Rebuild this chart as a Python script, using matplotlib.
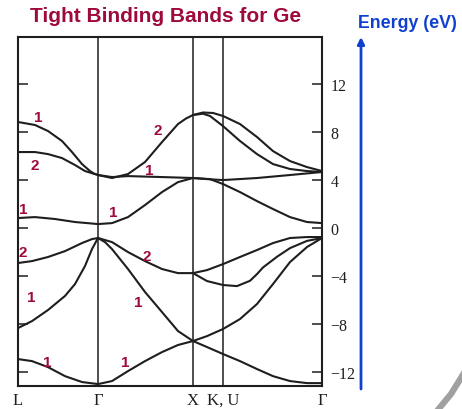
import matplotlib
matplotlib.use("Agg")
import matplotlib.pyplot as plt
from matplotlib.lines import Line2D

# k along the path L - Gamma - X - K,U - Gamma (arbitrary path units)
sym_k = [0.0, 0.80, 1.75, 2.05, 3.04]
sym_labels = ["L", "Γ", "X", "K, U", "Γ"]

# bands, energies in eV
v1_k = [0, 0.14, 0.30, 0.47, 0.64, 0.80, 0.94, 1.10, 1.27, 1.44, 1.60, 1.75,
        1.89, 2.05, 2.22, 2.39, 2.55, 2.72, 2.89, 3.04]
v1_e = [-10.89, -11.06, -11.56, -12.31, -12.80, -12.97, -12.72, -11.89, -11.06,
        -10.31, -9.72, -9.39, -9.89, -10.47, -11.06, -11.72, -12.31, -12.72,
        -12.89, -12.89]

v2_k = [0, 0.14, 0.30, 0.47, 0.57, 0.67, 0.74, 0.80, 0.87, 0.94, 1.10, 1.27,
        1.44, 1.60, 1.75, 1.89, 2.05, 2.22, 2.39, 2.55, 2.72, 2.89, 3.04]
v2_e = [-8.31, -7.73, -6.81, -5.64, -4.65, -3.15, -1.74, -0.82, -1.16, -1.74,
        -3.40, -5.31, -6.98, -8.56, -9.39, -8.98, -8.39, -7.56, -6.31, -4.65,
        -2.82, -1.57, -0.82]

v3_k = [0, 0.14, 0.30, 0.47, 0.64, 0.74, 0.80, 0.94, 1.10, 1.27, 1.44, 1.60,
        1.75, 1.89, 2.05, 2.19, 2.32, 2.39, 2.45, 2.59, 2.72, 2.89, 3.04]
v3_e = [-2.90, -2.74, -2.40, -1.91, -1.24, -0.91, -0.82, -1.16, -1.99, -2.74,
        -3.40, -3.74, -3.74, -4.40, -4.73, -4.82, -4.38, -3.82, -3.27, -2.38,
        -1.66, -1.06, -0.82]

v4_k = [1.75, 1.89, 2.05, 2.22, 2.39, 2.55, 2.72, 2.89, 3.04]
v4_e = [-3.74, -3.49, -2.99, -2.40, -1.82, -1.24, -0.82, -0.74, -0.74]

c1_k = [0, 0.17, 0.37, 0.57, 0.80, 0.94, 1.10, 1.27, 1.44, 1.60, 1.75, 1.92,
        2.05, 2.22, 2.39, 2.55, 2.72, 2.89, 3.04]
c1_e = [0.84, 0.92, 0.76, 0.51, 0.34, 0.42, 0.92, 1.92, 3.00, 3.83, 4.17, 4.08,
        3.67, 3.00, 2.25, 1.59, 0.92, 0.51, 0.42]

c2_k = [0, 0.17, 0.30, 0.44, 0.57, 0.67, 0.80, 0.94, 1.10, 1.44, 1.75, 1.89,
        2.05, 2.39, 2.72, 3.04]
c2_e = [6.33, 6.33, 6.16, 5.83, 5.25, 4.75, 4.42, 4.25, 4.33, 4.25, 4.17, 4.08,
        4.00, 4.17, 4.42, 4.67]

c3_k = [0, 0.17, 0.30, 0.44, 0.54, 0.64, 0.72, 0.76, 0.80, 0.94, 1.10, 1.27,
        1.44, 1.60, 1.68, 1.75, 1.85, 1.92, 2.05, 2.22, 2.39, 2.55, 2.72, 2.89,
        3.04]
c3_e = [8.83, 8.58, 8.08, 7.25, 6.33, 5.33, 4.75, 4.54, 4.42, 4.17, 4.50, 5.50,
        7.16, 8.66, 9.12, 9.41, 9.52, 9.33, 8.49, 7.25, 6.16, 5.33, 4.92, 4.75,
        4.67]

c4_k = [1.75, 1.85, 1.95, 2.05, 2.22, 2.39, 2.55, 2.72, 2.89, 3.04]
c4_e = [9.41, 9.62, 9.58, 9.33, 8.66, 7.58, 6.41, 5.58, 5.08, 4.75]

bands = [(v1_k, v1_e), (v2_k, v2_e), (v3_k, v3_e), (v4_k, v4_e),
         (c1_k, c1_e), (c2_k, c2_e), (c3_k, c3_e), (c4_k, c4_e)]

y_ticks = [12, 8, 4, 0, -4, -8, -12]

# degeneracy labels
deg_text = ["1", "2", "2", "1", "1", "1", "2", "2", "1", "1", "1", "1"]
deg_k = [0.20, 0.17, 1.40, 1.31, 0.05, 0.95, 0.05, 1.29, 0.13, 1.20, 0.29, 1.07]
deg_e = [9.24, 5.25, 8.16, 4.83, 1.59, 1.34, -1.99, -2.32, -5.73, -6.14, -11.14, -11.14]

red = "#9e0a3c"
blue = "#1040d0"
ink = "#1e1e1e"

fig = plt.figure(figsize=(4.62, 4.10), dpi=100)
ax = fig.add_axes([18 / 462, 23 / 410, 304 / 462, 349 / 410])

for k, e in bands:
    ax.plot(k, e, color=ink, lw=1.5, solid_capstyle="round",
            solid_joinstyle="round")

for k in sym_k[1:4]:
    ax.axvline(k, color=ink, lw=1.1)

for t, k, e in zip(deg_text, deg_k, deg_e):
    ax.text(k, e, t, color=red, fontsize=11, fontweight="bold",
            family="Liberation Sans", ha="center", va="center")

ax.set_xlim(sym_k[0], sym_k[-1])
ax.set_ylim(-13.13, 15.9)
ax.set_xticks(sym_k)
ax.set_xticklabels(sym_labels, family="Liberation Serif", fontsize=12)
ax.set_yticks(y_ticks)
ax.set_yticklabels([str(v).replace("-", "\u2212") for v in y_ticks],
                   family="Liberation Serif", fontsize=11.5)
ax.tick_params(axis="x", length=0, pad=4, colors=ink)
ax.tick_params(axis="y", direction="in", left=True, right=True,
               labelleft=False, labelright=True, length=7, width=1.1,
               pad=6, colors=ink)
for s in ax.spines.values():
    s.set_linewidth(1.5)
    s.set_color(ink)

fig.text(166 / 462, 1 - 17 / 410, "Tight Binding Bands for Ge", color=red,
         fontsize=15, fontweight="bold", family="Liberation Sans",
         ha="center", va="center")
fig.text(407 / 462, 1 - 23 / 410, "Energy (eV)", color=blue, fontsize=12.8,
         fontweight="bold", family="Liberation Sans", ha="center", va="center")

ax.annotate("", xy=(361 / 462, 1 - 38 / 410), xytext=(361 / 462, 1 - 390 / 410),
            xycoords="figure fraction", textcoords="figure fraction",
            arrowprops=dict(arrowstyle="-|>", color=blue, lw=2,
                            mutation_scale=10, shrinkA=0, shrinkB=0))

fig.add_artist(Line2D([437 / 462, 451 / 462, 464 / 462],
                      [-2 / 410, 15 / 410, 36 / 410],
                      color="#a0a0a0", lw=4.5, transform=fig.transFigure))

fig.savefig("out.png", dpi=100)
